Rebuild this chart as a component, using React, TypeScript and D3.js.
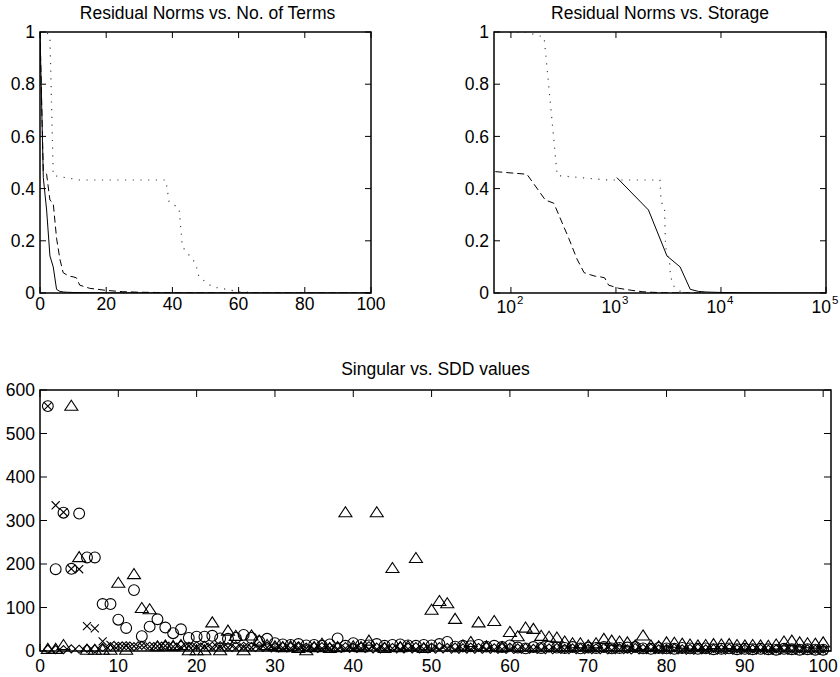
import React from 'react';
import * as d3 from 'd3';

// ---- residual norms, by number of terms ----
const svdTerms = [0, 1, 2, 3, 4, 5, 6, 7, 8, 10, 15, 20, 30, 50, 100];
const svdResid = [1, 0.442, 0.318, 0.142, 0.1, 0.014, 0.006, 0.004, 0.003, 0.002, 0.001, 0.0005, 0.0002, 0.0001, 0];
const svdStorage = [1020, 2040, 3060, 4080, 5100, 6120, 7140, 8160, 10200, 15300, 20400, 30600, 51000, 102000];

const sddTerms = [0, 1, 2, 3, 4, 5, 6, 7, 8, 9, 10, 11, 12, 15, 20, 25, 30, 40, 60, 100];
const sddResid = [1, 0.465, 0.455, 0.356, 0.344, 0.21, 0.13, 0.078, 0.07, 0.064, 0.062, 0.058, 0.03, 0.018, 0.01, 0.005, 0.003, 0.001, 0.0005, 0];
const sddStorage = [71, 142, 213, 256, 355, 426, 497, 568, 639, 710, 781, 852, 1065, 1420, 1775, 2130, 2840, 4260, 7100];

const altTerms = [0, 1, 2, 3, 4, 12, 38, 39, 42, 43, 47, 48, 52, 58, 60, 65, 100];
const altResid = [1, 1, 1, 0.98, 0.45, 0.433, 0.433, 0.35, 0.325, 0.177, 0.114, 0.062, 0.024, 0.01, 0.005, 0.001, 0];
const altStorage = [69, 138, 207, 276, 828, 2622, 2691, 2898, 2967, 3243, 3312, 3588, 4002, 4140, 4485, 6900];

// ---- singular vs SDD values, index 1..100 ----
const circleVals = [
  563, 188, 318, 189, 316, 215, 215, 108, 108, 72,
  53, 140, 34, 56, 73, 54, 41, 50, 30, 33,
  33, 35, 29, 28, 30, 37, 30, 22, 28, 18,
  15, 14, 16, 13, 14, 12, 15, 29, 12, 18,
  14, 13, 16, 12, 14, 15, 13, 12, 14, 13,
  16, 21, 10, 12, 11, 14, 10, 12, 9, 13,
  8, 6, 9, 7, 10, 8, 7, 9, 6, 8,
  7, 9, 6, 7, 8, 9, 6, 5, 7, 6,
  5, 7, 6, 5, 6, 4, 5, 6, 4, 5,
  4, 5, 4, 3, 5, 4, 3, 4, 3, 3];
const crossVals = [
  563, 335, 319, 189, 188, 57, 52, 22, 14, 12,
  12, 11, 13, 10, 11, 12, 10, 9, 11, 9,
  10, 8, 9, 8, 7, 9, 8, 7, 8, 6,
  7, 6, 7, 6, 5, 6, 7, 5, 6, 5,
  6, 5, 4, 5, 6, 4, 5, 4, 5, 4,
  4, 5, 3, 4, 4, 3, 4, 3, 4, 3,
  3, 4, 3, 3, 2, 3, 3, 2, 3, 2,
  3, 2, 2, 3, 2, 2, 2, 3, 2, 2,
  2, 2, 1, 2, 2, 1, 2, 1, 2, 1,
  1, 2, 1, 1, 1, 1, 1, 1, 1, 1];
const triangleVals = [
  6, 6, 15, 565, 217, 4, 4, 4, 4, 158,
  4, 178, 100, 97, 12, 14, 13, 15, 3, 3,
  3, 67, 3, 48, 36, 3, 37, 25, 15, 12,
  10, 12, 8, 3, 10, 18, 8, 10, 320, 12,
  10, 25, 320, 8, 192, 10, 12, 215, 8, 96,
  116, 111, 75, 14, 22, 67, 12, 70, 10, 45,
  35, 55, 52, 36, 34, 32, 23, 19, 19, 14,
  19, 29, 25, 23, 21, 14, 37, 14, 12, 21,
  20, 18, 16, 14, 15, 17, 16, 17, 15, 14,
  15, 14, 13, 16, 23, 25, 21, 19, 18, 21];
const diamondVals = [
  4, 3, 3, 5, 4, 6, 5, 8, 10, 11,
  12, 10, 13, 11, 12, 13, 12, 14, 11, 12,
  13, 11, 12, 10, 12, 11, 10, 12, 11, 10,
  11, 10, 12, 9, 11, 10, 9, 11, 10, 9,
  10, 12, 9, 10, 8, 11, 9, 10, 8, 9,
  10, 8, 9, 7, 9, 8, 10, 7, 8, 9,
  7, 8, 6, 9, 7, 8, 6, 7, 8, 6,
  7, 8, 6, 7, 5, 8, 6, 7, 5, 6,
  7, 5, 6, 7, 5, 6, 5, 7, 5, 6,
  5, 6, 4, 5, 6, 4, 5, 5, 4, 5];

const leftTicksX = [0, 20, 40, 60, 80, 100];
const residTicksY = [0, 0.2, 0.4, 0.6, 0.8, 1];
const storageTicks = [100, 1000, 10000, 100000];
const bottomTicksX = [0, 10, 20, 30, 40, 50, 60, 70, 80, 90, 100];
const bottomTicksY = [0, 100, 200, 300, 400, 500, 600];

const FONT = '"Liberation Sans", Arial, Helvetica, sans-serif';
const TICK = 6;

// matlab-ish '^' marker: a bit wider than tall, centred on its box
const wideTriangle = {
  draw(ctx, size) {
    const h = Math.sqrt(size) * 0.6;
    const w = h * 1.3;
    ctx.moveTo(0, -h);
    ctx.lineTo(w, h);
    ctx.lineTo(-w, h);
    ctx.closePath();
  },
};

const Box = ({ x0, x1, y0, y1 }) => (
  <rect x={x0} y={y0} width={x1 - x0} height={y1 - y0} fill="none" stroke="#000" strokeWidth={1.5} />
);

const App = () => {
  // top-left
  const xT = d3.scaleLinear().domain([0, 100]).range([40, 371]);
  const yR = d3.scaleLinear().domain([0, 1]).range([293, 32]);
  // top-right
  const xS = d3.scaleLog().domain([69, 100000]).range([494, 826]);
  // bottom
  const xB = d3.scaleLinear().domain([0, 101]).range([40, 831]);
  const yB = d3.scaleLinear().domain([0, 600]).range([651, 390]);

  const lineT = (xs, ys) => d3.line().x((d, i) => xT(xs[i])).y((d) => yR(d))(ys);
  const lineS = (xs, ys) => d3.line().x((d, i) => xS(xs[i])).y((d) => yR(d))(ys);

  const idx = d3.range(1, 101);
  const circ = d3.symbol().type(d3.symbolCircle).size(92)();
  const times = d3.symbol().type(d3.symbolTimes).size(44)();
  const tri = d3.symbol().type(wideTriangle).size(70)();
  const dia = d3.symbol().type(d3.symbolDiamond2).size(42)();

  const solid = { fill: 'none', stroke: '#000', strokeWidth: 1 };
  const dashed = { fill: 'none', stroke: '#000', strokeWidth: 1, strokeDasharray: '7,4' };
  const dotted = { fill: 'none', stroke: '#444', strokeWidth: 1.2, strokeDasharray: '1.2,6.5' };

  const yLabels = (x, scale, ticks) =>
    ticks.map((t) => (
      <text key={t} x={x} y={scale(t)} dy="0.35em" textAnchor="end">{String(t)}</text>
    ));

  return (
    <svg width={840} height={677} style={{ position: 'absolute', left: 0, top: 0, background: '#fff' }}
      fontFamily={FONT} fontSize={17.5} fill="#000">
      <defs>
        <clipPath id="cT"><rect x={40} y={32} width={331} height={261} /></clipPath>
        <clipPath id="cS"><rect x={494} y={32} width={332} height={261} /></clipPath>
        <clipPath id="cB"><rect x={34} y={384} width={803} height={273} /></clipPath>
      </defs>

      {/* ---------- top-left ---------- */}
      <text x={(40 + 371) / 2 + 2} y={18.5} textAnchor="middle">Residual Norms vs. No. of Terms</text>
      <g clipPath="url(#cT)">
        <path d={lineT(altTerms, altResid)} {...dotted} />
        <path d={lineT(sddTerms, sddResid)} {...dashed} />
        <path d={lineT(svdTerms, svdResid)} {...solid} />
      </g>
      {leftTicksX.map((t) => (
        <g key={t} stroke="#000">
          <line x1={xT(t)} x2={xT(t)} y1={293} y2={293 - TICK} />
          <line x1={xT(t)} x2={xT(t)} y1={32} y2={32 + TICK} />
        </g>
      ))}
      {residTicksY.map((t) => (
        <g key={t} stroke="#000">
          <line x1={40} x2={40 + TICK} y1={yR(t)} y2={yR(t)} />
          <line x1={371} x2={371 - TICK} y1={yR(t)} y2={yR(t)} />
        </g>
      ))}
      <Box x0={40} x1={371} y0={32} y1={293} />
      {leftTicksX.map((t) => (
        <text key={t} x={xT(t)} y={310} textAnchor="middle">{t}</text>
      ))}
      {yLabels(35, yR, residTicksY)}

      {/* ---------- top-right ---------- */}
      <text x={(494 + 826) / 2} y={18.5} textAnchor="middle">Residual Norms vs. Storage</text>
      <g clipPath="url(#cS)">
        <path d={lineS(altStorage, altResid.slice(1))} {...dotted} />
        <path d={lineS(sddStorage, sddResid.slice(1))} {...dashed} />
        <path d={lineS(svdStorage, svdResid.slice(1))} {...solid} />
      </g>
      {storageTicks.map((t) => (
        <g key={t} stroke="#000">
          <line x1={xS(t)} x2={xS(t)} y1={293} y2={293 - TICK} />
          <line x1={xS(t)} x2={xS(t)} y1={32} y2={32 + TICK} />
        </g>
      ))}
      {residTicksY.map((t) => (
        <g key={t} stroke="#000">
          <line x1={494} x2={494 + TICK} y1={yR(t)} y2={yR(t)} />
          <line x1={826} x2={826 - TICK} y1={yR(t)} y2={yR(t)} />
        </g>
      ))}
      <Box x0={494} x1={826} y0={32} y1={293} />
      {storageTicks.map((t) => (
        <g key={t}>
          <text x={xS(t) + 5} y={313} textAnchor="end">10</text>
          <text x={xS(t) + 6} y={304} fontSize={11.5}>{Math.round(Math.log10(t))}</text>
        </g>
      ))}
      {yLabels(489, yR, residTicksY)}

      {/* ---------- bottom ---------- */}
      <text x={(40 + 831) / 2} y={375} textAnchor="middle">Singular vs. SDD values</text>
      <g clipPath="url(#cB)" fill="none" stroke="#000" strokeWidth={1.1}>
        {idx.map((k, i) => (
          <path key={'d' + k} d={dia} transform={`translate(${xB(k)},${yB(diamondVals[i])})`} />
        ))}
        {idx.map((k, i) => (
          <path key={'t' + k} d={tri} transform={`translate(${xB(k)},${yB(triangleVals[i])})`} />
        ))}
        {idx.map((k, i) => (
          <path key={'x' + k} d={times} transform={`translate(${xB(k)},${yB(crossVals[i])})`} />
        ))}
        {idx.map((k, i) => (
          <path key={'c' + k} d={circ} transform={`translate(${xB(k)},${yB(circleVals[i])})`} />
        ))}
      </g>
      {bottomTicksX.map((t) => (
        <g key={t} stroke="#000">
          <line x1={xB(t)} x2={xB(t)} y1={651} y2={651 - 7} />
          <line x1={xB(t)} x2={xB(t)} y1={390} y2={390 + 7} />
        </g>
      ))}
      {bottomTicksY.map((t) => (
        <g key={t} stroke="#000">
          <line x1={40} x2={40 + 7} y1={yB(t)} y2={yB(t)} />
          <line x1={831} x2={831 - 7} y1={yB(t)} y2={yB(t)} />
        </g>
      ))}
      <Box x0={40} x1={831} y0={390} y1={651} />
      {bottomTicksX.map((t) => (
        <text key={t} x={xB(t)} y={672} textAnchor="middle">{t}</text>
      ))}
      {yLabels(35, yB, bottomTicksY)}
    </svg>
  );
};

export default App;
